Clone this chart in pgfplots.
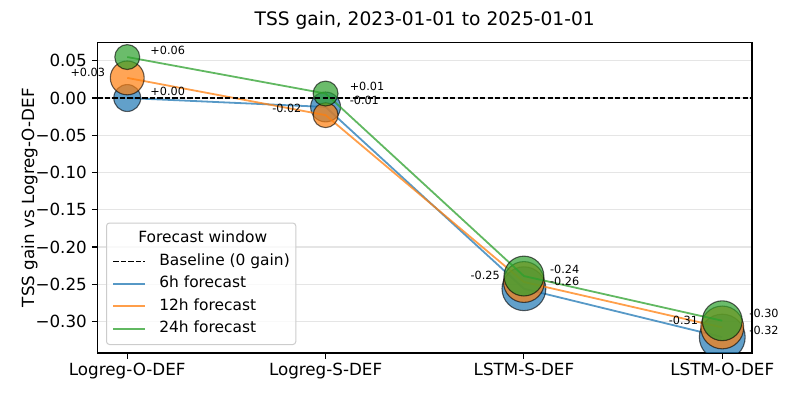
\documentclass[border=0pt]{standalone}
\usepackage{pgfplots}
\pgfplotsset{compat=1.18}
\usepackage{pgfplotstable}
\usepackage{fontspec}
\setmainfont{DejaVu Sans}
\definecolor{c1}{HTML}{1F77B4}
\definecolor{c2}{HTML}{FF7F0E}
\definecolor{c3}{HTML}{2CA02C}

\pgfplotstableread{
x y r
0 0.000 13.5
1 -0.012 15
2 -0.256 22
3 -0.321 23
}\sixh
\pgfplotstableread{
x y r
0 0.027 17
1 -0.023 12.5
2 -0.247 20.5
3 -0.308 21.5
}\twelveh
\pgfplotstableread{
x y r
0 0.055 12.5
1 0.006 12.5
2 -0.239 20
3 -0.299 20
}\twentyfourh

\pgfplotsset{
  bub/.style={scatter, only marks, mark=*, forget plot,
    scatter/use mapped color={draw=black, fill=#1},
    visualization depends on={\thisrow{r}\as\rad},
    scatter/@pre marker code/.append style={/tikz/mark size=\rad},
    mark options={fill opacity=0.7, draw opacity=0.6, line width=1.1bp}},
  ser/.style={#1, line width=1.8bp, opacity=0.75, forget plot},
}
\tikzset{ann/.style={font=\fontsize{11.3}{13}\selectfont, inner sep=0pt}}

\begin{document}
\begin{tikzpicture}
\useasboundingbox (-97.5bp,-44bp) rectangle (695.5bp,353bp);
\begin{axis}[
  scale only axis, width=654.5bp, height=310.7bp,
  xmin=-0.15, xmax=3.15, ymin=-0.3423, ymax=0.0748,
  clip mode=individual, clip marker paths=true,
  xtick={0,1,2,3},
  xticklabels={Logreg-O-DEF,Logreg-S-DEF,LSTM-S-DEF,LSTM-O-DEF},
  ytick={-0.30,-0.25,-0.20,-0.15,-0.10,-0.05,0,0.05},
  yticklabels={−0.30,−0.25,−0.20,−0.15,−0.10,−0.05,0.00,0.05},
  tick pos=left, tick align=outside, major tick length=5.5bp,
  tick style={black, line width=1.1bp},
  axis line style={line width=1.1bp},
  ymajorgrids, grid style={black!10, line width=1.1bp},
  ticklabel style={font=\fontsize{16.8}{19}\selectfont},
  yticklabel style={inner xsep=5bp},
  xticklabel style={inner ysep=4.5bp},
  title={TSS gain, 2023-01-01 to 2025-01-01},
  title style={font=\fontsize{18.7}{22}\selectfont, at={(axis description cs:0.5,1)}, anchor=base, yshift=11.3bp},
  ylabel={TSS gain vs Logreg-O-DEF},
  ylabel style={font=\fontsize{16.8}{19}\selectfont, at={(axis description cs:-0.104,0.5)}, anchor=center},
  legend image code/.code={\draw[#1] (0bp,0bp) -- (32bp,0bp);},
  legend cell align=left,
  legend style={at={(axis description cs:0.013,0.0257)}, anchor=south west,
    draw=black!20, line width=1bp, rounded corners=3bp, fill=white, fill opacity=0.8, text opacity=1,
    font=\fontsize{15.5}{18}\selectfont, inner xsep=6bp, inner ysep=8bp,
    row sep=7bp, column sep=13bp,
    nodes={text height=11.8bp, text depth=3.7bp, inner ysep=0pt, inner xsep=0pt}},
]
\addlegendimage{empty legend}
\addlegendentry{\hspace*{-21bp}Forecast window}
\addlegendimage{black, line width=1.3bp, dash pattern=on 5.2bp off 2.3bp}
\addlegendentry{Baseline (0 gain)}
\addlegendimage{c1, line width=1.8bp, opacity=0.75}
\addlegendentry{6h forecast}
\addlegendimage{c2, line width=1.8bp, opacity=0.75}
\addlegendentry{12h forecast}
\addlegendimage{c3, line width=1.8bp, opacity=0.75}
\addlegendentry{24h forecast}

\addplot[ser=c1] table[x=x,y=y]{\sixh};
\addplot[bub=c1] table[x=x,y=y]{\sixh};
\addplot[ser=c2] table[x=x,y=y]{\twelveh};
\addplot[bub=c2] table[x=x,y=y]{\twelveh};
\addplot[ser=c3] table[x=x,y=y]{\twentyfourh};
\addplot[bub=c3] table[x=x,y=y]{\twentyfourh};
\addplot[black, line width=1.3bp, dash pattern=on 5.2bp off 2.3bp, forget plot] coordinates {(-0.15,0) (3.15,0)};

% annotations
\node[ann, anchor=west, xshift=23bp, yshift=7bp] at (axis cs:0,0.055) {+0.06};
\node[ann, anchor=east, xshift=-22bp, yshift=5.5bp] at (axis cs:0,0.027) {+0.03};
\node[ann, anchor=west, xshift=23bp, yshift=7bp] at (axis cs:0,0.000) {+0.00};
\node[ann, anchor=west, xshift=24bp, yshift=7bp] at (axis cs:1,0.006) {+0.01};
\node[ann, anchor=west, xshift=24bp, yshift=7bp] at (axis cs:1,-0.012) {-0.01};
\node[ann, anchor=east, xshift=-24bp, yshift=7bp] at (axis cs:1,-0.023) {-0.02};
\node[ann, anchor=west, xshift=26bp, yshift=7bp] at (axis cs:2,-0.239) {-0.24};
\node[ann, anchor=east, xshift=-24bp, yshift=7bp] at (axis cs:2,-0.247) {-0.25};
\node[ann, anchor=west, xshift=26bp, yshift=7bp] at (axis cs:2,-0.256) {-0.26};
\node[ann, anchor=west, xshift=27bp, yshift=7bp] at (axis cs:3,-0.299) {-0.30};
\node[ann, anchor=east, xshift=-24bp, yshift=7bp] at (axis cs:3,-0.308) {-0.31};
\node[ann, anchor=west, xshift=27bp, yshift=7bp] at (axis cs:3,-0.321) {-0.32};
\end{axis}
\end{tikzpicture}
\end{document}
